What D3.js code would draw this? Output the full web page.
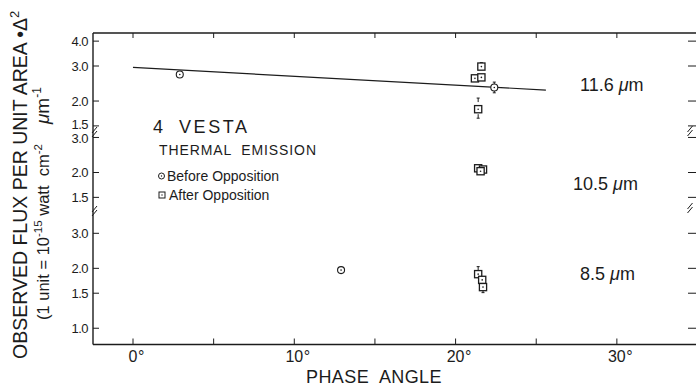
<!DOCTYPE html>
<html><head><meta charset="utf-8">
<script src="https://cdn.jsdelivr.net/npm/d3@7"></script>
<style>
body{margin:0;background:#fff}
svg{display:block}
text{font-family:"Liberation Sans",Arial,sans-serif;fill:#1c1c1c;white-space:pre}
</style>
</head><body>
<svg id="chart" width="696" height="389"></svg>
<script>
// Phase angle in degrees; flux in units of 1e-15 W cm^-2 um^-1 (times Delta^2)
const xTicks = [0, 5, 10, 15, 20, 25, 30];
const xTickLabels = [0, 10, 20, 30];
const yTicks116 = [4.0, 3.0, 2.0, 1.5];
const yTicks105 = [3.0, 2.0, 1.5];
const yTicks85 = [3.0, 2.0, 1.5, 1.0];
const bandLabels = ["11.6", "10.5", "8.5"];

// 11.6 um
const before116Phase = [2.9, 22.4];
const before116Flux = [2.72, 2.34];
const before116Lo = [null, 2.20];
const before116Hi = [null, 2.49];
const after116Phase = [21.6, 21.2, 21.6, 21.4];
const after116Flux = [2.98, 2.60, 2.63, 1.82];
const after116Lo = [null, null, null, 1.64];
const after116Hi = [3.12, null, null, 2.07];
const fitPhase = [0, 25.6];
const fitFlux = [2.95, 2.27];

// 10.5 um
const after105Phase = [21.4, 21.7, 21.55];
const after105Flux = [2.10, 2.07, 2.03];
const after105Lo = [null, null, null];
const after105Hi = [null, null, null];

// 8.5 um
const before85Phase = [12.9];
const before85Flux = [1.96];
const after85Phase = [21.4, 21.65, 21.7];
const after85Flux = [1.87, 1.75, 1.61];
const after85Lo = [null, null, 1.51];
const after85Hi = [2.04, null, null];

const svg = d3.select("#chart");
const ink = "#1c1c1c";
const L = 93, T = 33, B = 344.5;

const x = d3.scaleLinear().domain([-2.48, 34.72]).range([L, 693]);
const dec = 199; // pixels per decade on the flux axes
const logScale = (v0, y0, lo, hi) => d3.scaleLog().domain([lo, hi])
  .range([y0 + dec * Math.log10(v0 / lo), y0 - dec * Math.log10(hi / v0)]);
const y116 = logScale(3.0, 66, 1.5, 4.0);
const y105 = logScale(2.0, 172.5, 1.5, 3.0);
const y85 = logScale(3.0, 233.3, 1.0, 3.0);

// frame
const frame = svg.append("g").attr("stroke", ink).attr("stroke-width", 1.4).attr("fill", "none");
frame.append("line").attr("x1", L).attr("x2", 696).attr("y1", T).attr("y2", T);
frame.append("line").attr("x1", L).attr("x2", 696).attr("y1", B).attr("y2", B);
frame.append("line").attr("x1", L).attr("x2", L).attr("y1", T).attr("y2", B);

// x ticks, top and bottom
const xt = svg.append("g").attr("stroke", ink).attr("stroke-width", 1);
xTicks.forEach(t => {
  xt.append("line").attr("x1", x(t)).attr("x2", x(t)).attr("y1", T).attr("y2", T + 5);
  xt.append("line").attr("x1", x(t)).attr("x2", x(t)).attr("y1", B).attr("y2", B - 6);
});
xTickLabels.forEach(t => {
  const num = svg.append("text").attr("x", x(t)).attr("y", 362).attr("font-size", 16)
    .attr("text-anchor", "middle").text(t);
  const w = num.node().getComputedTextLength();
  svg.append("text").attr("x", x(t) + w / 2 + 0.5).attr("y", 362).attr("font-size", 16).text("°");
});
svg.append("text").attr("x", 374).attr("y", 383).attr("font-size", 18)
  .attr("text-anchor", "middle").attr("letter-spacing", 0.4).text("PHASE  ANGLE");

// y ticks for each band panel, left and right
const yLabels = [];
[[y116, yTicks116], [y105, yTicks105], [y85, yTicks85]].forEach(([s, ticks]) => {
  ticks.forEach(t => {
    svg.append("line").attr("x1", L).attr("x2", L + 6).attr("y1", s(t)).attr("y2", s(t))
      .attr("stroke", ink).attr("stroke-width", 1);
    svg.append("line").attr("x1", 688).attr("x2", 696).attr("y1", s(t)).attr("y2", s(t))
      .attr("stroke", ink).attr("stroke-width", 1);
    yLabels.push({ y: s(t), text: d3.format(".1f")(t) });
  });
});
// keep neighbouring labels of adjacent panels from touching
yLabels.sort((a, b) => a.y - b.y);
for (let i = 1; i < yLabels.length; i++) {
  const gap = yLabels[i].y - yLabels[i - 1].y;
  if (gap < 14) {
    const push = (14 - gap) / 2;
    yLabels[i - 1].y -= push;
    yLabels[i].y += push;
  }
}
yLabels.forEach(d => svg.append("text").attr("x", 88).attr("y", d.y).attr("dy", "0.35em")
  .attr("font-size", 13).attr("text-anchor", "end").attr("letter-spacing", -0.5).text(d.text));

// axis break marks
function breakMark(cx, cy) {
  const g = svg.append("g").attr("stroke", ink).attr("stroke-width", 1);
  [-2, 2].forEach(o => g.append("line")
    .attr("x1", cx - 2.5).attr("y1", cy + o + 3).attr("x2", cx + 2.5).attr("y2", cy + o - 3));
}
breakMark(L + 1.5, 132);
breakMark(L + 1.5, 211);
breakMark(690, 131);
breakMark(690, 208);

// fitted trend at 11.6 um
svg.append("path")
  .datum(fitPhase.map((p, i) => [p, fitFlux[i]]))
  .attr("d", d3.line().x(d => x(d[0])).y(d => y116(d[1])))
  .attr("stroke", ink).attr("stroke-width", 1.2).attr("fill", "none");

// markers
function errBars(phase, lo, hi, s) {
  phase.forEach((p, i) => {
    [lo[i], hi[i]].forEach((v, k) => {
      if (v == null) return;
      svg.append("line").attr("x1", x(p)).attr("x2", x(p))
        .attr("y1", s(v)).attr("y2", s(v) + (k === 0 ? -4 : 4))
        .attr("stroke", ink).attr("stroke-width", 1);
      svg.append("line").attr("x1", x(p) - 1.5).attr("x2", x(p) + 1.5)
        .attr("y1", s(v)).attr("y2", s(v)).attr("stroke", ink).attr("stroke-width", 1);
    });
  });
}
function circles(phase, flux, s) {
  phase.forEach((p, i) => {
    svg.append("circle").attr("cx", x(p)).attr("cy", s(flux[i])).attr("r", 3.5)
      .attr("fill", "#fff").attr("stroke", ink).attr("stroke-width", 1.1);
    svg.append("circle").attr("cx", x(p)).attr("cy", s(flux[i])).attr("r", 0.8).attr("fill", ink);
  });
}
function squares(phase, flux, s) {
  phase.forEach((p, i) => {
    svg.append("rect").attr("x", x(p) - 3.6).attr("y", s(flux[i]) - 3.6)
      .attr("width", 7.2).attr("height", 7.2)
      .attr("fill", "#fff").attr("stroke", ink).attr("stroke-width", 1.3);
    svg.append("circle").attr("cx", x(p)).attr("cy", s(flux[i])).attr("r", 0.8).attr("fill", ink);
  });
}
errBars(before116Phase, before116Lo, before116Hi, y116);
errBars(after116Phase, after116Lo, after116Hi, y116);
errBars(after105Phase, after105Lo, after105Hi, y105);
errBars(after85Phase, after85Lo, after85Hi, y85);
circles(before116Phase, before116Flux, y116);
squares(after116Phase, after116Flux, y116);
squares(after105Phase, after105Flux, y105);
circles(before85Phase, before85Flux, y85);
squares(after85Phase, after85Flux, y85);

// wavelength labels
[[bandLabels[0], 580, 91], [bandLabels[1], 573, 190], [bandLabels[2], 580, 280]].forEach(([t, lx, ly]) => {
  const tx = svg.append("text").attr("x", lx).attr("y", ly).attr("font-size", 18);
  tx.append("tspan").text(t + " ");
  tx.append("tspan").attr("font-style", "italic").text("μ");
  tx.append("tspan").text("m");
});

// legend block
const vt = svg.append("text").attr("x", 153).attr("y", 133).attr("font-size", 18);
vt.append("tspan").text("4");
vt.append("tspan").attr("dx", 16).attr("letter-spacing", 2.6).text("VESTA");
svg.append("text").attr("x", 159).attr("y", 155).attr("font-size", 14)
  .attr("letter-spacing", 0.9).text("THERMAL  EMISSION");
svg.append("circle").attr("cx", 161.5).attr("cy", 176).attr("r", 3)
  .attr("fill", "#fff").attr("stroke", ink).attr("stroke-width", 1);
svg.append("circle").attr("cx", 161.5).attr("cy", 176).attr("r", 0.7).attr("fill", ink);
svg.append("text").attr("x", 167).attr("y", 181).attr("font-size", 14).text("Before Opposition");
svg.append("rect").attr("x", 159).attr("y", 192).attr("width", 6).attr("height", 6)
  .attr("fill", "#fff").attr("stroke", ink).attr("stroke-width", 1);
svg.append("circle").attr("cx", 162).attr("cy", 195).attr("r", 0.7).attr("fill", ink);
svg.append("text").attr("x", 169).attr("y", 200).attr("font-size", 14).text("After Opposition");

// flux axis title (two rotated lines)
const t1 = svg.append("text").attr("transform", "translate(27,359) rotate(-90)")
  .attr("font-size", 19.5);
t1.append("tspan").text("OBSERVED FLUX PER UNIT AREA •Δ");
t1.append("tspan").attr("dy", -8).attr("font-size", 13).text("2");

const t2 = svg.append("text").attr("transform", "translate(49,320) rotate(-90)")
  .attr("font-size", 16.5);
t2.append("tspan").text("(1 unit = 10");
t2.append("tspan").attr("dy", -7).attr("font-size", 11.5).text("-15");
t2.append("tspan").attr("dy", 7).text(" watt  cm");
t2.append("tspan").attr("dy", -7).attr("font-size", 11.5).text("-2");
t2.append("tspan").attr("dy", 7).attr("dx", 20).attr("font-size", 19).attr("font-style", "italic").text("μ");
t2.append("tspan").attr("font-size", 19).text("m");
t2.append("tspan").attr("dy", -8).attr("font-size", 12).text("-1");
</script>
</body></html>
